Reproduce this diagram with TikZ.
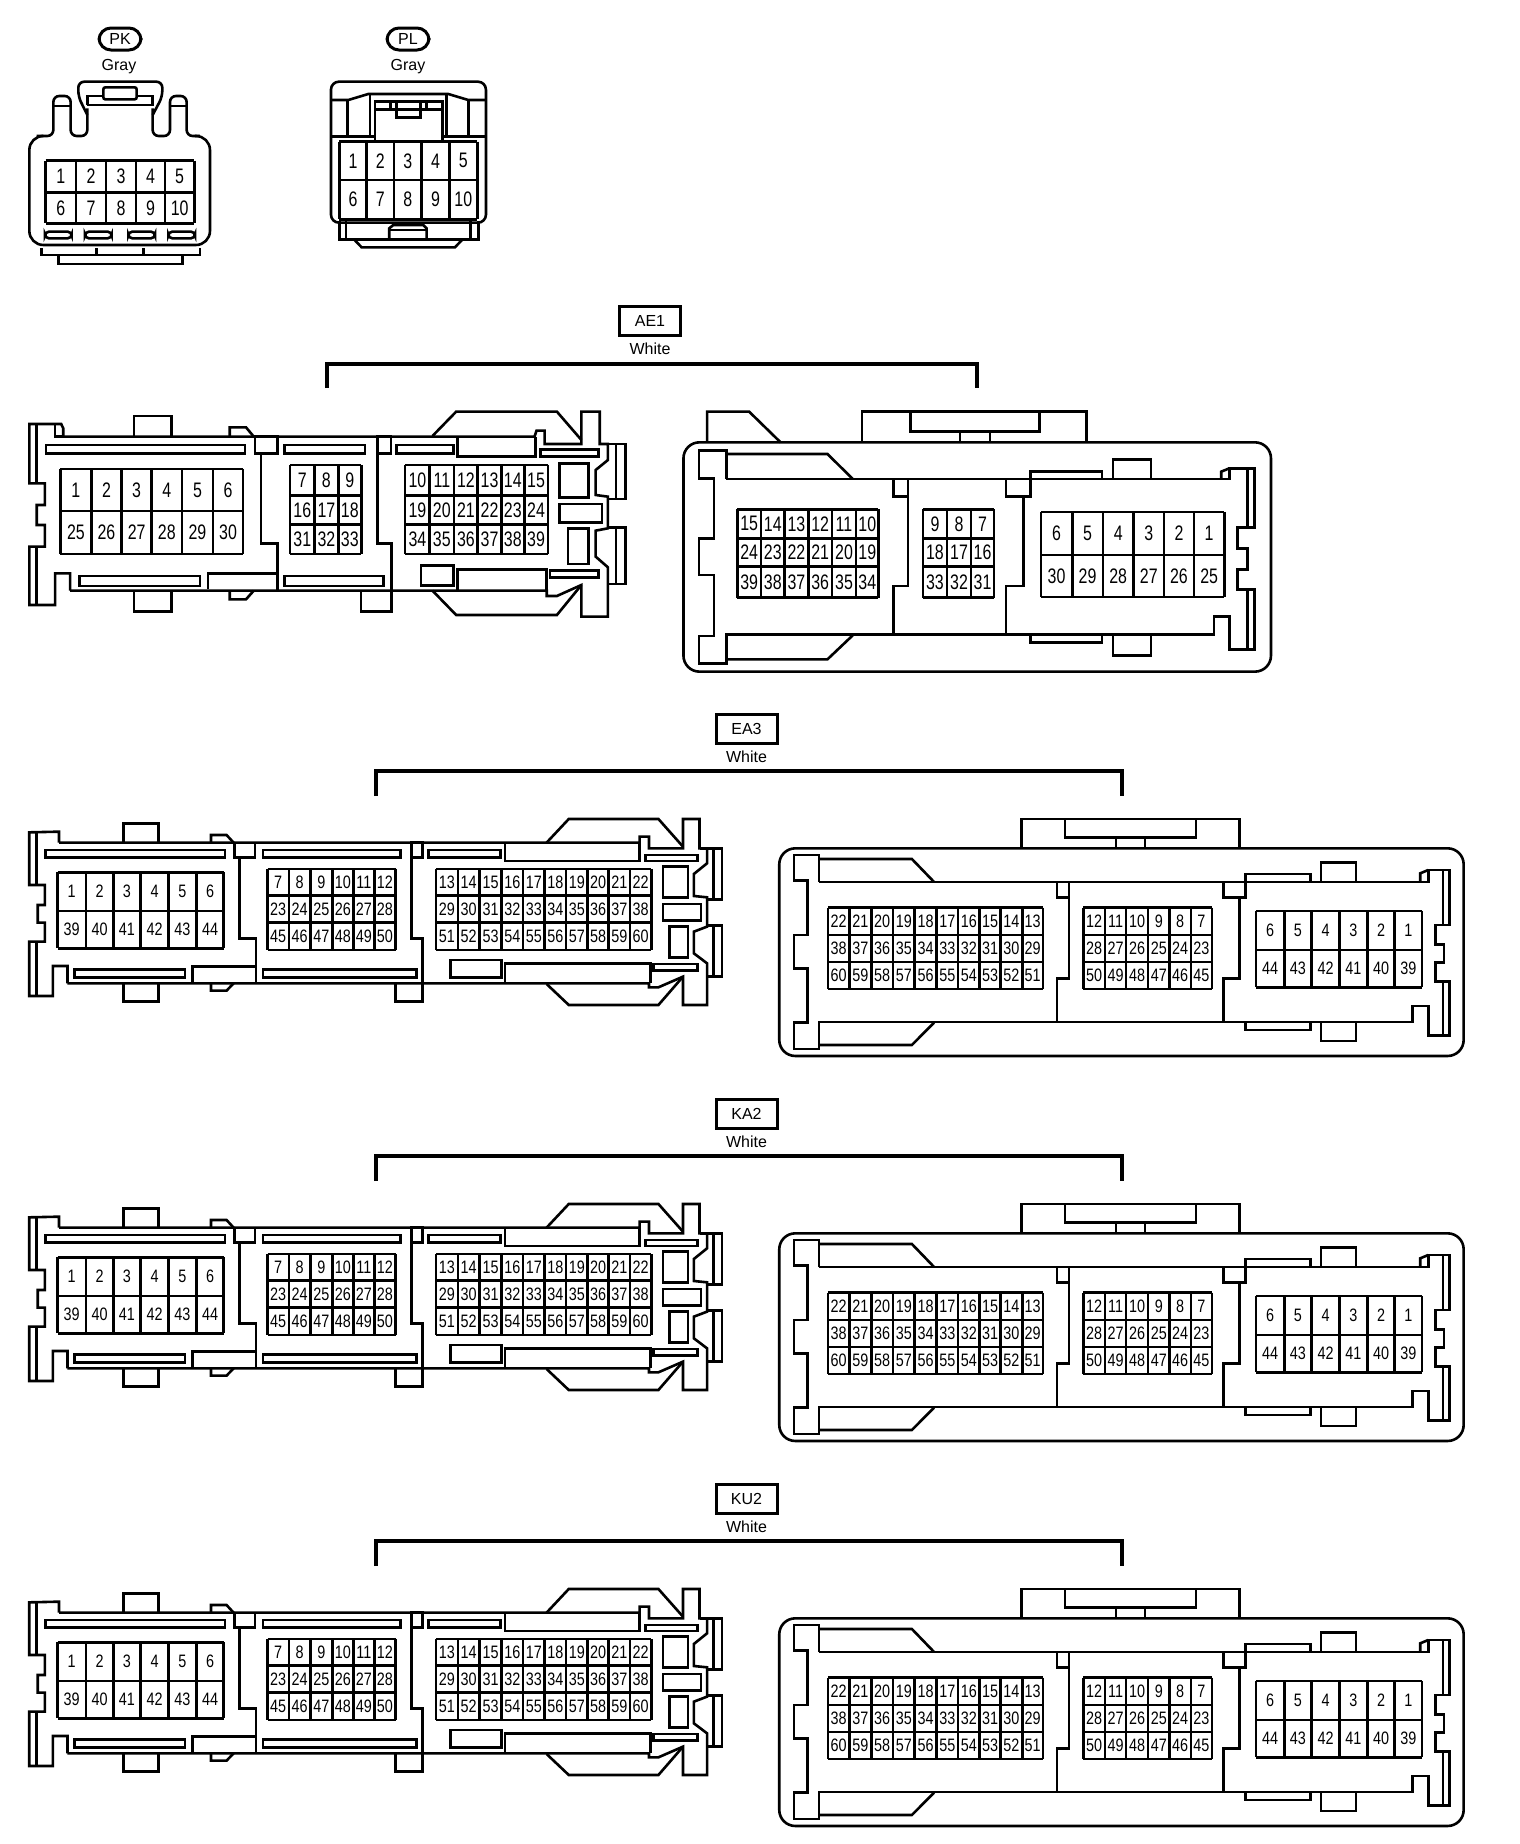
\documentclass[tikz,border=0pt]{standalone}
\usepackage{fontspec}
\setmainfont{Liberation Sans}
\newfontfamily\pinfont[FakeStretch=0.8]{Liberation Sans}
\newfontfamily\pinfontwide[FakeStretch=0.76]{Liberation Sans}

\tikzset{
  shell/.style={line width=1.3pt},
  tag/.style={draw, line width=1.5pt, minimum width=30.5pt, minimum height=14.5pt, inner sep=0pt, font=\fontsize{8}{9}\selectfont},
  pill/.style={tag, rounded corners=6pt, minimum width=21pt, minimum height=11pt},
  colorname/.style={inner sep=0pt, font=\fontsize{8}{9}\selectfont},
  bracket/.style={line width=2pt, line cap=butt},
  pinlabel/.style={inner sep=0pt, font=\fontsize{9}{10}\pinfont},
  pinlabelwide/.style={inner sep=0pt, font=\fontsize{10.5}{12}\pinfontwide}
}

% column edges, row edges, labels row by row
\newcommand{\pingrid}[4][pinlabel]{%
  \pgfmathsetmacro\gxa{{#2}[0]}
  \pgfmathsetmacro\gxb{{#2}[dim({#2})-1]}
  \pgfmathsetmacro\gya{{#3}[0]}
  \pgfmathsetmacro\gyb{{#3}[dim({#3})-1]}
  \foreach \gx in {#2} {\draw[shell, line cap=square] (\gx, \gya) -- (\gx, \gyb);}
  \foreach \gy in {#3} {\draw[shell, line cap=square] (\gxa, \gy) -- (\gxb, \gy);}
  \foreach \rowlabels [count=\r] in {#4} {
    \foreach \lab [count=\c] in \rowlabels {
      \pgfmathtruncatemacro\ci{\c-1}
      \pgfmathtruncatemacro\ri{\r-1}
      \pgfmathsetmacro\xa{{#2}[\ci]}
      \pgfmathsetmacro\xb{{#2}[\c]}
      \pgfmathsetmacro\ya{{#3}[\ri]}
      \pgfmathsetmacro\yb{{#3}[\r]}
      \node[#1] (p\lab) at ({(\xa+\xb)/2}, {(\ya+\yb)/2}) {\lab};
    }
  }
}

\newcommand{\grouplabel}[4]{%
  \node[tag] (#1) at (#3, #4) {#2};
  \node[colorname] (#1color) at (#3, {#4+28}) {White};
}

\newcommand{\groupbracket}[4]{%
  \coordinate (lowleft) at (#1, #4);
  \coordinate (topleft) at (#1, #3);
  \coordinate (topright) at (#2, #3);
  \coordinate (lowright) at (#2, #4);
  \draw[bracket] (lowleft) -- (topleft) -- (topright) -- (lowright);
}

\newcommand{\widecase}{%
  \begin{scope}[shift={(0, 700)}, xscale=0.472, yscale=0.3333, shell]
    \draw
    (143, 850) -- (143, 798) -- (112, 798) -- (112, 888) -- (62, 888) -- (62, 725) -- (95, 725) -- (95, 668)
    -- (80, 668) -- (80, 615) -- (95, 615) -- (95, 555) -- (62, 555) -- (62, 397) -- (125, 395) -- (125, 428);
    \draw (77, 397) -- (77, 555) (77, 725) -- (77, 888);

    \draw
    (125, 428) -- (1355, 428) -- (1355, 410) -- (1375, 410) -- (1375, 445) -- (1447, 445)
    -- (1447, 357) -- (1482, 357) -- (1482, 445) -- (1498, 445) -- (1498, 490) -- (1470, 522) -- (1470, 588)
    -- (1498, 592) -- (1498, 680) -- (1470, 695) -- (1470, 760) -- (1498, 790) -- (1498, 915) -- (1447, 915)
    -- (1447, 830) -- (1395, 862) -- (1375, 862) -- (1375, 850) -- (143, 850);
    \draw (1158, 428) -- (1205, 357) -- (1395, 357) -- (1447, 440);
    \draw (1158, 852) -- (1205, 915) -- (1395, 915) -- (1447, 830);
    \draw (1482, 445) -- (1530, 445) -- (1530, 598) -- (1498, 598) (1512, 445) -- (1512, 598);
    \draw (1498, 677) -- (1530, 677) -- (1530, 830) -- (1498, 830) (1512, 677) -- (1512, 830);

    \draw (262, 428) -- (262, 370) -- (336, 370) -- (336, 428);
    \draw (262, 850) -- (262, 905) -- (336, 905) -- (336, 850);
    \draw (447, 428) -- (447, 405) -- (480, 405) -- (495, 428);
    \draw (447, 850) -- (447, 872) -- (480, 872) -- (495, 850);
    \draw (838, 850) -- (838, 905) -- (895, 905) -- (895, 850);

    \draw (497, 428) -- (497, 473) -- (540, 473) -- (540, 428);
    \draw (508, 473) -- (508, 716) -- (542, 716) -- (542, 850);
    \draw (872, 428) rectangle (895, 473);
    \draw (872, 473) -- (872, 716) -- (895, 716) -- (895, 850);

    \draw
    (97, 450) rectangle (477, 473)
    (557, 450) rectangle (848, 473)
    (908, 450) rectangle (1060, 473)
    (1367, 465) rectangle (1478, 483)
    (1405, 500) rectangle (1458, 593)
    (1405, 612) rectangle (1485, 662)
    (1418, 680) rectangle (1458, 773)
    (1385, 792) rectangle (1478, 812)
    (955, 780) rectangle (1062, 833)
    (158, 808) rectangle (392, 833)
    (557, 808) rectangle (882, 833);
    \draw (1070, 428) -- (1070, 483) -- (1355, 483) -- (1355, 428);
    \draw (1070, 850) -- (1070, 790) -- (1378, 790) -- (1378, 850);
    \draw (408, 850) -- (408, 800) -- (540, 800);

    \pingrid{122,182,240,298,357,416,474}{517,633,745}{{1,2,3,4,5,6},{39,40,41,42,43,44}}
    \pingrid{567,612,658,704,749,793,838}{507,587,668,750}
      {{7,8,9,10,11,12},{23,24,25,26,27,28},{45,46,47,48,49,50}}
    \pingrid{924,970,1016,1063,1108,1154,1199,1245,1289,1335,1380}{507,587,668,750}
      {{13,14,15,16,17,18,19,20,21,22},{29,30,31,32,33,34,35,36,37,38},{51,52,53,54,55,56,57,58,59,60}}
  \end{scope}

  \begin{scope}[shift={(750, 700)}, xscale=0.472, yscale=0.3333, shell]
    \draw[rounded corners=8pt] (62, 445) rectangle (1512, 1068);

    \draw (575, 445) -- (575, 357) -- (1037, 357) -- (1037, 445);
    \draw (667, 357) -- (667, 412) -- (945, 412) -- (945, 357);
    \draw (775, 412) -- (775, 445) (837, 412) -- (837, 445);

    \draw
    (146, 546) -- (146, 465) -- (93, 465) -- (93, 542) -- (122, 542) -- (122, 705) -- (93, 705) -- (93, 805)
    -- (122, 805) -- (122, 968) -- (93, 968) -- (93, 1047) -- (146, 1047) -- (146, 966)
    -- (1403, 966) -- (1403, 918) -- (1437, 918) -- (1437, 1007) -- (1482, 1007) -- (1482, 845) -- (1452, 845)
    -- (1452, 788) -- (1470, 788) -- (1470, 733) -- (1452, 733) -- (1452, 675) -- (1482, 675) -- (1482, 510)
    -- (1437, 510) -- (1437, 546) -- (146, 546);
    \draw (1420, 546) -- (1420, 520) -- (1437, 510);
    \draw (1468, 510) -- (1468, 675) (1468, 845) -- (1468, 1007);

    \draw (146, 477) -- (343, 477) -- (390, 546);
    \draw (146, 1035) -- (343, 1035) -- (390, 968);
    \draw (1050, 546) -- (1050, 522) -- (1187, 522) -- (1187, 546);
    \draw (1210, 546) -- (1210, 488) -- (1284, 488) -- (1284, 546);
    \draw (1050, 966) -- (1050, 990) -- (1187, 990) -- (1187, 966);
    \draw (1210, 966) -- (1210, 1023) -- (1284, 1023) -- (1284, 966);

    \draw (676, 546) -- (676, 835) -- (650, 835) -- (650, 966);
    \draw (650, 546) -- (650, 592) -- (676, 592);
    \draw (1037, 592) -- (1037, 835) -- (1003, 835) -- (1003, 966);
    \draw (1003, 546) -- (1003, 592) -- (1050, 592) -- (1050, 546);

    \pingrid{165,211,257,303,349,395,441,486,531,577,621}{623,705,786,867}
      {{22,21,20,19,18,17,16,15,14,13},{38,37,36,35,34,33,32,31,30,29},{60,59,58,57,56,55,54,53,52,51}}
    \pingrid{706,752,797,843,889,934,979}{623,705,786,867}
      {{12,11,10,9,8,7},{28,27,26,25,24,23},{50,49,48,47,46,45}}
    \pingrid{1072,1132,1190,1249,1308,1366,1424}{633,750,862}{{6,5,4,3,2,1},{44,43,42,41,40,39}}
  \end{scope}
}

\begin{document}
\begin{tikzpicture}[x=0.5pt, y=-0.5pt]
  \useasboundingbox (0, 0) rectangle (1520, 1844);

  % PK
  \node[pill] (pk) at (120, 39) {PK};
  \node[colorname] (pkcolor) at (119, 67) {Gray};
  \begin{scope}[scale=0.3333, shell, name prefix=pk-]
    \draw[rounded corners=3pt]
    (110, 408) -- (160, 408) -- (160, 288) -- (212, 288) -- (212, 408) -- (262, 408) -- (262, 325);
    \draw[rounded corners=3pt]
    (458, 325) -- (458, 408) -- (510, 408) -- (510, 288) -- (560, 288) -- (560, 408) -- (600, 408);
    \draw[rounded corners=7pt] (125, 408) -- (88, 408) -- (88, 735) -- (630, 735) -- (630, 408) -- (585, 408);
    \draw (160, 318) -- (212, 318) (510, 318) -- (560, 318);
    \draw[rounded corners=3pt] (262, 345) -- (235, 290) -- (235, 245) -- (487, 245) -- (487, 290) -- (458, 345);
    \draw (262, 315) -- (262, 288) -- (310, 288) (410, 288) -- (458, 288) -- (458, 315) -- (262, 315);
    \draw[rounded corners=1pt] (310, 262) rectangle (410, 298);
    \foreach \sx in {135, 255, 385, 505} {
      \draw[rounded corners=2pt] (\sx, 695) rectangle ++(80, 20);
    }
    \draw (125, 745) -- (125, 765) -- (600, 765) -- (600, 745);
    \draw (290, 745) -- (290, 765) (430, 745) -- (430, 765);
    \draw (175, 765) -- (175, 792) -- (547, 792) -- (547, 765);
    \pingrid[pinlabelwide]{137,228,318,408,495,583}{482,577,670}{{1,2,3,4,5},{6,7,8,9,10}}
  \end{scope}

  % PL
  \node[pill] (pl) at (408, 39) {PL};
  \node[colorname] (plcolor) at (408, 67) {Gray};
  \begin{scope}[scale=0.3333, shell, name prefix=pl-]
    \draw[rounded corners=4pt] (993, 668) -- (993, 245) -- (1458, 245) -- (1458, 668) -- cycle;
    \draw (993, 300) -- (1045, 300) -- (1105, 282) -- (1345, 282) -- (1405, 300) -- (1458, 300);
    \draw (1042, 300) -- (1042, 410) (1405, 300) -- (1405, 410);
    \draw (1110, 282) -- (1110, 410) (1340, 282) -- (1340, 410);
    \draw (1125, 420) -- (1125, 305) -- (1328, 305) -- (1328, 420);
    \draw (1125, 328) -- (1328, 328);
    \draw (1190, 305) -- (1190, 352) -- (1262, 352) -- (1262, 305);
    \draw (1172, 305) -- (1172, 328) (1280, 305) -- (1280, 328);
    \draw (993, 410) -- (1125, 410) (1328, 410) -- (1458, 410);
    \draw (1018, 662) -- (1018, 718) -- (1435, 718) -- (1435, 662);
    \draw (1038, 662) -- (1038, 718) (1412, 662) -- (1412, 718);
    \draw (1168, 718) -- (1168, 685) -- (1180, 675) -- (1270, 675) -- (1280, 685) -- (1280, 718);
    \draw (1168, 690) -- (1280, 690);
    \draw (1062, 718) -- (1085, 742) -- (1365, 742) -- (1388, 718);
    \pingrid[pinlabelwide]{1018,1100,1182,1265,1348,1432}{425,540,658}{{1,2,3,4,5},{6,7,8,9,10}}
  \end{scope}

  % AE1
  \grouplabel{ae1}{AE1}{650}{321}
  \groupbracket{327}{977}{364}{388}

  \begin{scope}[shift={(0, 290)}, xscale=0.408, yscale=0.3333, shell, name prefix=ae1a-]
    \draw
    (172, 902) -- (172, 850) -- (135, 850) -- (135, 945) -- (72, 945) -- (72, 770) -- (110, 770) -- (110, 705)
    -- (90, 705) -- (90, 645) -- (110, 645) -- (110, 580) -- (72, 580) -- (72, 402) -- (150, 402) -- (155, 415)
    -- (155, 440);
    \draw (135, 402) -- (135, 440) -- (155, 440);
    \draw (90, 402) -- (90, 580) (90, 770) -- (90, 945);

    \draw
    (155, 440) -- (1310, 440) -- (1315, 422) -- (1335, 422) -- (1335, 462) -- (1425, 462)
    -- (1425, 365) -- (1470, 365) -- (1470, 462) -- (1490, 462) -- (1490, 510) -- (1460, 540) -- (1460, 615)
    -- (1490, 620) -- (1490, 715) -- (1460, 722) -- (1460, 800) -- (1490, 832) -- (1490, 980) -- (1425, 980)
    -- (1425, 885) -- (1365, 918) -- (1340, 918) -- (1340, 902) -- (172, 902);
    \draw (1060, 438) -- (1118, 365) -- (1365, 365) -- (1425, 450);
    \draw (1060, 902) -- (1118, 975) -- (1365, 975) -- (1425, 885);
    \draw (1490, 462) -- (1533, 462) -- (1533, 627) -- (1490, 627) (1510, 462) -- (1510, 627);
    \draw (1490, 712) -- (1533, 712) -- (1533, 882) -- (1490, 882) (1510, 712) -- (1510, 882);

    \draw (328, 440) -- (328, 378) -- (420, 378) -- (420, 440);
    \draw (328, 902) -- (328, 965) -- (420, 965) -- (420, 902);
    \draw (563, 440) -- (563, 412) -- (603, 412) -- (622, 440);
    \draw (563, 902) -- (563, 928) -- (603, 928) -- (622, 902);
    \draw (885, 902) -- (885, 965) -- (960, 965) -- (960, 902);

    \draw (625, 440) rectangle (680, 490);
    \draw (640, 490) -- (640, 760) -- (680, 760) -- (680, 902);
    \draw (925, 440) rectangle (958, 490);
    \draw (925, 490) -- (925, 760) -- (960, 760) -- (960, 902);

    \draw
    (113, 465) rectangle (600, 490)
    (698, 465) rectangle (895, 490)
    (972, 465) rectangle (1112, 490)
    (1325, 478) rectangle (1467, 500)
    (1372, 520) rectangle (1442, 622)
    (1372, 642) rectangle (1475, 697)
    (1392, 716) rectangle (1442, 822)
    (1348, 842) rectangle (1467, 863)
    (1032, 826) rectangle (1112, 886)
    (195, 858) rectangle (490, 888)
    (698, 858) rectangle (940, 888);
    \draw (1122, 440) -- (1122, 500) -- (1312, 500) -- (1312, 440);
    \draw (1122, 902) -- (1122, 838) -- (1340, 838) -- (1340, 902);
    \draw (510, 897) -- (510, 850) -- (680, 850);

    \pingrid[pinlabelwide]{148,224,298,372,446,522,596}{537,663,792}{{1,2,3,4,5,6},{25,26,27,28,29,30}}
    \pingrid[pinlabelwide]{711,771,829,886}{525,617,703,792}{{7,8,9},{16,17,18},{31,32,33}}
    \pingrid[pinlabelwide]{993,1053,1113,1171,1229,1285,1343}{525,617,703,792}
      {{10,11,12,13,14,15},{19,20,21,22,23,24},{34,35,36,37,38,39}}
  \end{scope}

  \begin{scope}[shift={(650, 290)}, xscale=0.408, yscale=0.3333, shell, name prefix=ae1b-]
    \draw[rounded corners=8pt] (82, 457) rectangle (1522, 1145);

    \draw (140, 457) -- (140, 365) -- (243, 365) -- (320, 457);
    \draw (520, 457) -- (520, 365) -- (1070, 365) -- (1070, 457);
    \draw (638, 365) -- (638, 425) -- (955, 425) -- (955, 365);
    \draw (760, 425) -- (760, 457) (833, 425) -- (833, 457);

    \draw
    (187, 567) -- (187, 482) -- (120, 482) -- (120, 565) -- (157, 565) -- (157, 745) -- (120, 745) -- (120, 855)
    -- (157, 855) -- (157, 1038) -- (120, 1038) -- (120, 1120) -- (187, 1120) -- (187, 1033)
    -- (1382, 1033) -- (1382, 980) -- (1420, 980) -- (1420, 1078) -- (1482, 1078) -- (1482, 898) -- (1440, 898)
    -- (1440, 838) -- (1465, 838) -- (1465, 775) -- (1440, 775) -- (1440, 712) -- (1482, 712) -- (1482, 535)
    -- (1420, 535) -- (1420, 567) -- (187, 567);
    \draw (1400, 567) -- (1400, 545) -- (1420, 535);
    \draw (1465, 535) -- (1465, 712) (1465, 898) -- (1465, 1078);

    \draw (187, 492) -- (435, 492) -- (497, 567);
    \draw (187, 1108) -- (435, 1108) -- (497, 1036);
    \draw (932, 567) -- (932, 545) -- (1108, 545) -- (1108, 567);
    \draw (1135, 567) -- (1135, 508) -- (1228, 508) -- (1228, 567);
    \draw (932, 1033) -- (932, 1058) -- (1108, 1058) -- (1108, 1033);
    \draw (1135, 1033) -- (1135, 1097) -- (1228, 1097) -- (1228, 1033);

    \draw (632, 567) -- (632, 888) -- (597, 888) -- (597, 1033);
    \draw (597, 567) -- (597, 620) -- (632, 620);
    \draw (915, 620) -- (915, 888) -- (873, 888) -- (873, 1033);
    \draw (873, 567) -- (873, 620) -- (932, 620) -- (932, 567);

    \pingrid[pinlabelwide]{214,272,330,388,446,505,560}{658,745,830,923}
      {{15,14,13,12,11,10},{24,23,22,21,20,19},{39,38,37,36,35,34}}
    \pingrid[pinlabelwide]{669,728,787,843}{658,745,830,923}{{9,8,7},{18,17,16},{33,32,31}}
    \pingrid[pinlabelwide]{958,1035,1110,1185,1260,1333,1408}{666,795,921}{{6,5,4,3,2,1},{30,29,28,27,26,25}}
  \end{scope}

  % EA3, KA2, KU2
  \foreach \rowname/\rowtext/\rowy in {ea3/EA3/0, ka2/KA2/385, ku2/KU2/770} {
    \begin{scope}[shift={(0, \rowy)}, name prefix=\rowname-]
      \grouplabel{tag}{\rowtext}{746.5}{729}
      \groupbracket{375.5}{1122}{770.5}{796}
      \widecase
    \end{scope}
  }
\end{tikzpicture}
\end{document}
